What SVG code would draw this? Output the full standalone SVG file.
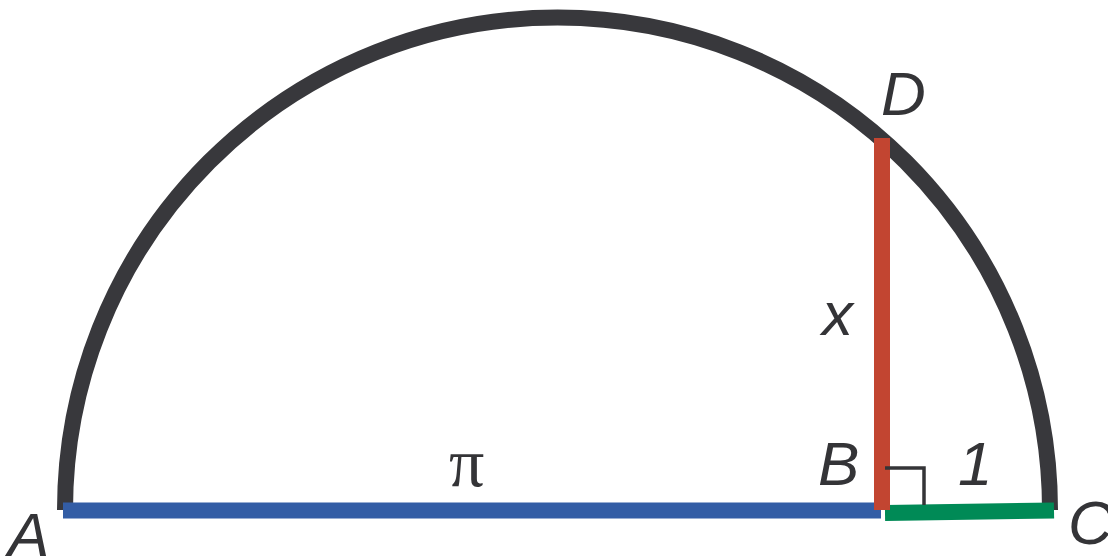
<svg xmlns="http://www.w3.org/2000/svg" width="1108" height="560" viewBox="0 0 1108 560">
<style>
.lbl{font-family:"Liberation Sans",Arial,sans-serif;font-style:italic;font-size:62px;fill:#343437}
.pi{font-family:"Liberation Serif","Times New Roman",serif;font-size:70px;fill:#343437}
</style>
<rect width="1108" height="560" fill="#fff"/>
<g id="connectors">
<path id="arc" d="M65 510 A492.5 492.5 0 0 1 1050 510" fill="none" stroke="#38383c" stroke-width="16"/>
<line id="AB" x1="63" y1="510.5" x2="881" y2="510.5" stroke="#335da5" stroke-width="16"/>
<line id="BC" x1="885" y1="513" x2="1054" y2="510.5" stroke="#008a56" stroke-width="16"/>
<line id="BD" x1="882" y1="138" x2="882" y2="510" stroke="#c24531" stroke-width="16"/>
<path id="rightangle" d="M885 468 H924 V505" fill="none" stroke="#343437" stroke-width="3.5"/>
</g>
<g id="A"><text class="lbl" x="8" y="556">A</text></g>
<g id="B"><text class="lbl" x="818" y="485">B</text></g>
<g id="C"><text class="lbl" x="1068" y="544">C</text></g>
<g id="D"><text class="lbl" x="881" y="115">D</text></g>
<g id="x"><text class="lbl" x="822" y="335">x</text></g>
<g id="one"><text class="lbl" x="958" y="485">1</text></g>
<g id="pi"><text class="pi" x="449" y="486">π</text></g>
</svg>
